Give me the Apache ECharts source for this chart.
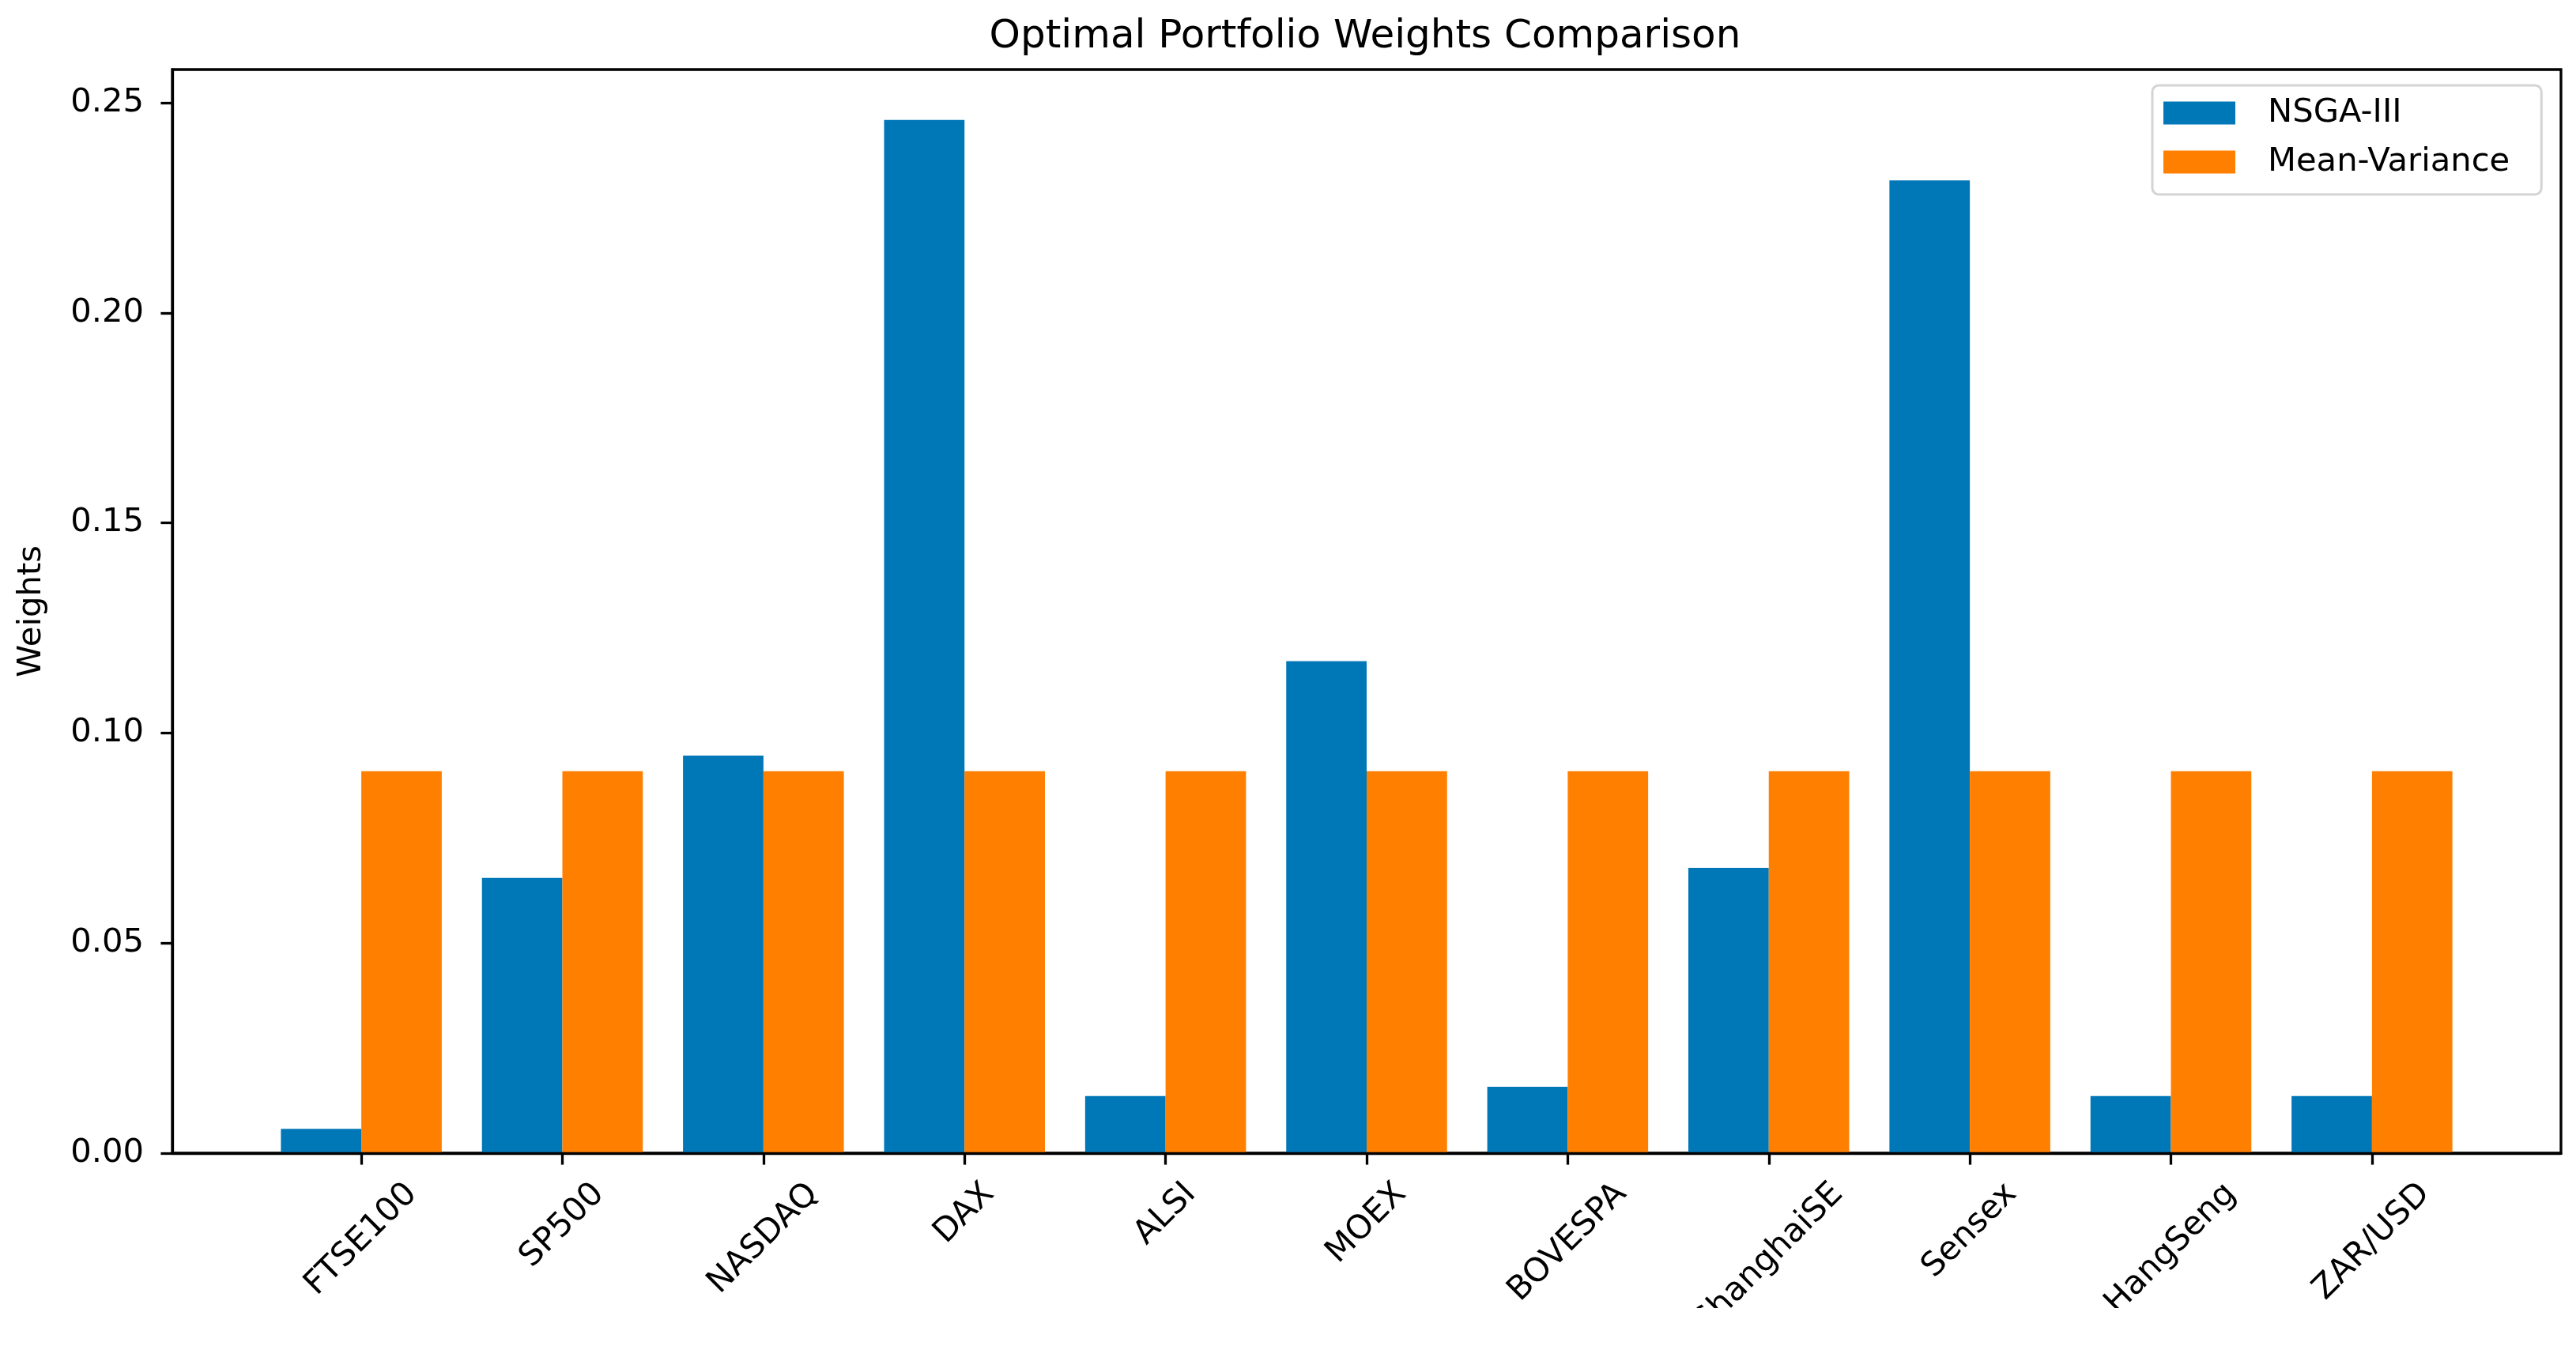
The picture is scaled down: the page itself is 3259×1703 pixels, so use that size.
<!DOCTYPE html>
<html><head><meta charset="utf-8">
<script src="https://cdn.jsdelivr.net/npm/echarts@6/dist/echarts.min.js"></script>
<style>html,body{margin:0;padding:0;background:#fff}#c{width:3259px;height:1703px}</style>
</head><body><div id="c"></div><script>
const categories = ['FTSE100','SP500','NASDAQ','DAX','ALSI','MOEX','BOVESPA','ShanghaiSE','Sensex','HangSeng','ZAR/USD'];
const nsga = [0.0058, 0.0655, 0.0946, 0.2459, 0.0136, 0.1171, 0.0158, 0.0679, 0.2315, 0.0136, 0.0136];
const meanVar = [0.0909, 0.0909, 0.0909, 0.0909, 0.0909, 0.0909, 0.0909, 0.0909, 0.0909, 0.0909, 0.0909];
const yTicks = [0, 0.05, 0.10, 0.15, 0.20, 0.25];
const seriesNames = ['NSGA-III', 'Mean-Variance'];

const FONT = 'DejaVu Sans';
const FS = 41.7;
const TITLE_FS = 50;
const xTicks = categories.map((_, i) => i);

const ctx = document.createElement('canvas').getContext('2d');
function textW(t, fs) { ctx.font = fs + 'px "' + FONT + '"'; return ctx.measureText(t).width; }

const LH = 46;
const rich = {};
categories.forEach((c, i) => {
  const p = (textW(c, FS) + LH) / 2;
  rich['c' + i] = { fontSize: FS, fontFamily: FONT, color: '#000', lineHeight: LH, padding: [p, p, 0, 0] };
});

const titleText = 'Optimal Portfolio Weights Comparison';
const titleW = textW(titleText, TITLE_FS);

const chart = echarts.init(document.getElementById('c'), null, { renderer: 'canvas' });
chart.setOption({
  animation: false,
  backgroundColor: '#fff',
  title: {
    text: titleText, left: 1727 - titleW / 2, top: 22, padding: 0,
    textStyle: { fontSize: TITLE_FS, fontFamily: FONT, fontWeight: 'normal', color: '#000' }
  },
  legend: {
    data: seriesNames, orient: 'vertical', left: 2723, top: 108,
    padding: [14, 40, 20, 14], itemWidth: 91, itemHeight: 29, itemGap: 20, icon: 'rect',
    textStyle: { fontSize: FS, fontFamily: FONT, color: '#000', lineHeight: 42, padding: [0, 0, 0, 36] },
    borderColor: '#d4d4d4', borderWidth: 3, borderRadius: 8, backgroundColor: '#fff'
  },
  grid: { left: 218, right: 19, top: 88, bottom: 244, show: true, borderColor: '#000', borderWidth: 3.3, backgroundColor: 'transparent' },
  xAxis: {
    type: 'value', min: -0.94, max: 10.94, z: 10,
    splitLine: { show: false },
    axisLine: { show: true, onZero: false, lineStyle: { color: '#000', width: 3.3 } },
    axisTick: { show: true, customValues: xTicks, length: 14.6, lineStyle: { color: '#000', width: 3.3 } },
    axisLabel: {
      customValues: xTicks, rotate: 45, margin: 29, align: 'center', verticalAlign: 'middle',
      formatter: v => { const i = Math.round(v); return '{c' + i + '|' + categories[i] + '}'; },
      rich: rich, fontSize: FS, fontFamily: FONT, color: '#000'
    }
  },
  yAxis: {
    type: 'value', min: 0, max: 0.2579, z: 10,
    name: 'Weights', nameLocation: 'middle', nameRotate: 90, nameGap: 157,
    nameTextStyle: { fontSize: FS, fontFamily: FONT, color: '#000' },
    splitLine: { show: false },
    axisLine: { show: true, onZero: false, lineStyle: { color: '#000', width: 3.3 } },
    axisTick: { show: true, customValues: yTicks, length: 14.6, lineStyle: { color: '#000', width: 3.3 } },
    axisLabel: { customValues: yTicks, margin: 36, fontSize: FS, fontFamily: FONT, color: '#000', formatter: v => v.toFixed(2) }
  },
  series: [
    { name: seriesNames[0], type: 'bar', barWidth: '40%', barGap: '0%', itemStyle: { color: '#0077b6' },
      data: nsga.map((v, i) => [xTicks[i], v]) },
    { name: seriesNames[1], type: 'bar', barWidth: '40%', barGap: '0%', itemStyle: { color: '#ff7f00' },
      data: meanVar.map((v, i) => [xTicks[i], v]) }
  ],
  graphic: [{ type: 'rect', left: 0, top: 1655, z: 1000, shape: { width: 3259, height: 48 }, style: { fill: '#fff' } }]
});
</script></body></html>
